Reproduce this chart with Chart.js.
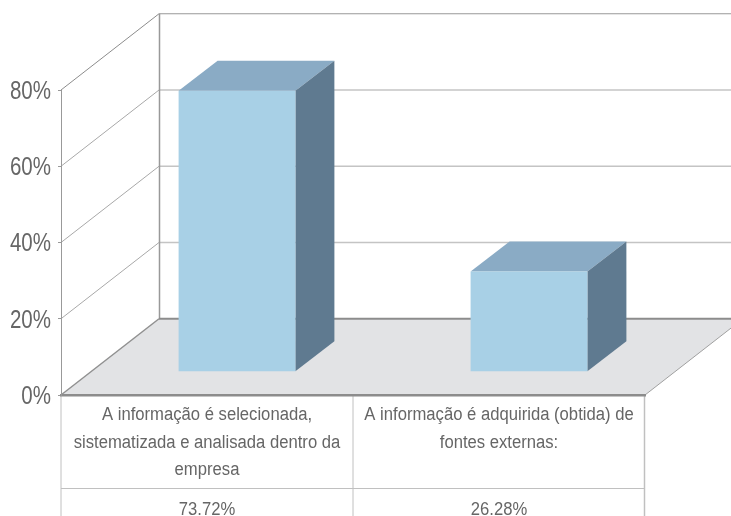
<!DOCTYPE html>
<html>
<head>
<meta charset="utf-8">
<style>
  html, body { margin: 0; padding: 0; background: #fff; overflow: hidden; }
  canvas { display: block; }
</style>
<script src="https://cdn.jsdelivr.net/npm/chart.js@4"></script>
</head>
<body>
<canvas id="chart" width="731" height="516"></canvas>
<script>
const categories = [
  ['A informação é selecionada,', 'sistematizada e analisada dentro da', 'empresa'],
  ['A informação é adquirida (obtida) de', 'fontes externas:']
];
const shares = [73.72, 26.28];
const yTicks = [0, 20, 40, 60, 80];

const fontName = '"Liberation Sans", sans-serif';

// floor depth of the fake 3d box, and where the bars stand on it
const wallDx = 98, wallDy = -76.25;
const barShiftX = 30, barShiftY = -23.2;
const barDx = 39, barDy = -30;

const line = (ctx, x1, y1, x2, y2, color, width) => {
  ctx.strokeStyle = color;
  ctx.lineWidth = width;
  ctx.beginPath();
  ctx.moveTo(x1, y1);
  ctx.lineTo(x2, y2);
  ctx.stroke();
};

const poly = (ctx, points, color) => {
  ctx.fillStyle = color;
  ctx.beginPath();
  points.forEach((p, i) => i ? ctx.lineTo(p[0], p[1]) : ctx.moveTo(p[0], p[1]));
  ctx.closePath();
  ctx.fill();
};

const canvas = document.getElementById('chart');
const canvasCtx = canvas.getContext('2d');

// no condensed font installed, so squeeze the labels around their anchor
const plainFillText = canvasCtx.fillText.bind(canvasCtx);
canvasCtx.fillText = (text, x, y) => {
  const squeeze = canvasCtx.font.includes('25px') ? 0.82 : 0.925;
  canvasCtx.save();
  canvasCtx.translate(x, y);
  canvasCtx.scale(squeeze, 1);
  plainFillText(text, 0, 0);
  canvasCtx.restore();
};

const box3d = {
  id: 'box3d',
  beforeDraw(chart) {
    const { ctx, chartArea: { left, right, bottom }, scales: { x, y } } = chart;
    const w = chart.width, h = chart.height;
    ctx.save();
    const backX = left + wallDx, backY = bottom + wallDy;

    poly(ctx, [[left, bottom], [backX, backY], [right + wallDx, backY], [right, bottom]], '#e2e3e5');

    yTicks.forEach(t => {
      const py = y.getPixelForValue(t);
      if (t === 0) return;
      line(ctx, left, py, backX, py + wallDy, t === 80 ? '#8c8c8c' : '#a8a8a8', 1);
      line(ctx, backX, py + wallDy, w, py + wallDy, t === 80 ? '#999999' : '#c4c4c4', t === 80 ? 1 : 1.5);
    });
    line(ctx, left, bottom, backX, backY, '#909090', 1.5);
    line(ctx, right, bottom, right + wallDx, backY, '#a0a0a0', 1);
    line(ctx, backX + 0.5, y.getPixelForValue(80) + wallDy, backX + 0.5, backY, '#999999', 1.5);
    line(ctx, backX, backY, w, backY, '#8c8c8c', 2);

    // table under the axis
    const tableColor = '#c0c0c0';
    const midX = (x.getPixelForValue(0) + x.getPixelForValue(1)) / 2;
    line(ctx, left, bottom, left, h, tableColor, 1);
    line(ctx, midX, bottom, midX, h, tableColor, 1);
    line(ctx, right - 0.5, bottom, right - 0.5, h, tableColor, 1.5);
    line(ctx, left, 488.5, right, 488.5, tableColor, 1);
    ctx.restore();
  },
  beforeDatasetDraw(chart, args) {
    const { ctx } = chart;
    ctx.save();
    ctx.translate(barShiftX, barShiftY);
    args.meta.data.forEach(bar => {
      const { x, y, base, width } = bar.getProps(['x', 'y', 'base', 'width'], true);
      const l = x - width / 2, r = x + width / 2;
      poly(ctx, [[l, y], [l + barDx, y + barDy], [r + barDx, y + barDy], [r, y]], '#8aabc5');
      poly(ctx, [[r, y], [r + barDx, y + barDy], [r + barDx, base + barDy], [r, base]], '#5f7a90');
    });
  },
  afterDatasetDraw(chart) {
    chart.ctx.restore();
  },
  afterDraw(chart) {
    const { ctx, scales: { x } } = chart;
    ctx.save();
    ctx.font = '18px ' + fontName;
    ctx.fillStyle = '#666666';
    ctx.textAlign = 'center';
    ctx.textBaseline = 'alphabetic';
    shares.forEach((v, i) => ctx.fillText(v.toFixed(2) + '%', x.getPixelForValue(i), 515));
    ctx.restore();
  }
};

new Chart(canvas, {
  type: 'bar',
  plugins: [box3d],
  data: {
    labels: categories,
    datasets: [{
      data: shares,
      backgroundColor: '#a8d0e6',
      borderWidth: 0,
      categoryPercentage: 1,
      barPercentage: 0.4,
      clip: false
    }]
  },
  options: {
    responsive: false,
    animation: false,
    layout: { padding: { top: 90, right: 86, left: 0, bottom: 0 } },
    plugins: { legend: { display: false }, tooltip: { enabled: false } },
    scales: {
      x: {
        afterFit: s => { s.height = 121; },
        grid: { drawOnChartArea: false, drawTicks: false },
        border: { color: '#8c8c8c', width: 2.5 },
        ticks: {
          autoSkip: false,
          maxRotation: 0,
          padding: 6.5,
          color: '#666666',
          font: { family: fontName, size: 18, lineHeight: 1.53 }
        }
      },
      y: {
        min: 0,
        max: 80,
        afterFit: s => { s.width = 61; },
        afterBuildTicks: s => { s.ticks = yTicks.map(value => ({ value })); },
        grid: { drawOnChartArea: false, tickLength: 3, color: '#999999' },
        border: { color: '#999999', width: 1 },
        ticks: {
          padding: 7,
          labelOffset: 2,
          color: '#666666',
          font: { family: fontName, size: 25 },
          callback: v => v + '%'
        }
      }
    }
  }
});
</script>
</body>
</html>
